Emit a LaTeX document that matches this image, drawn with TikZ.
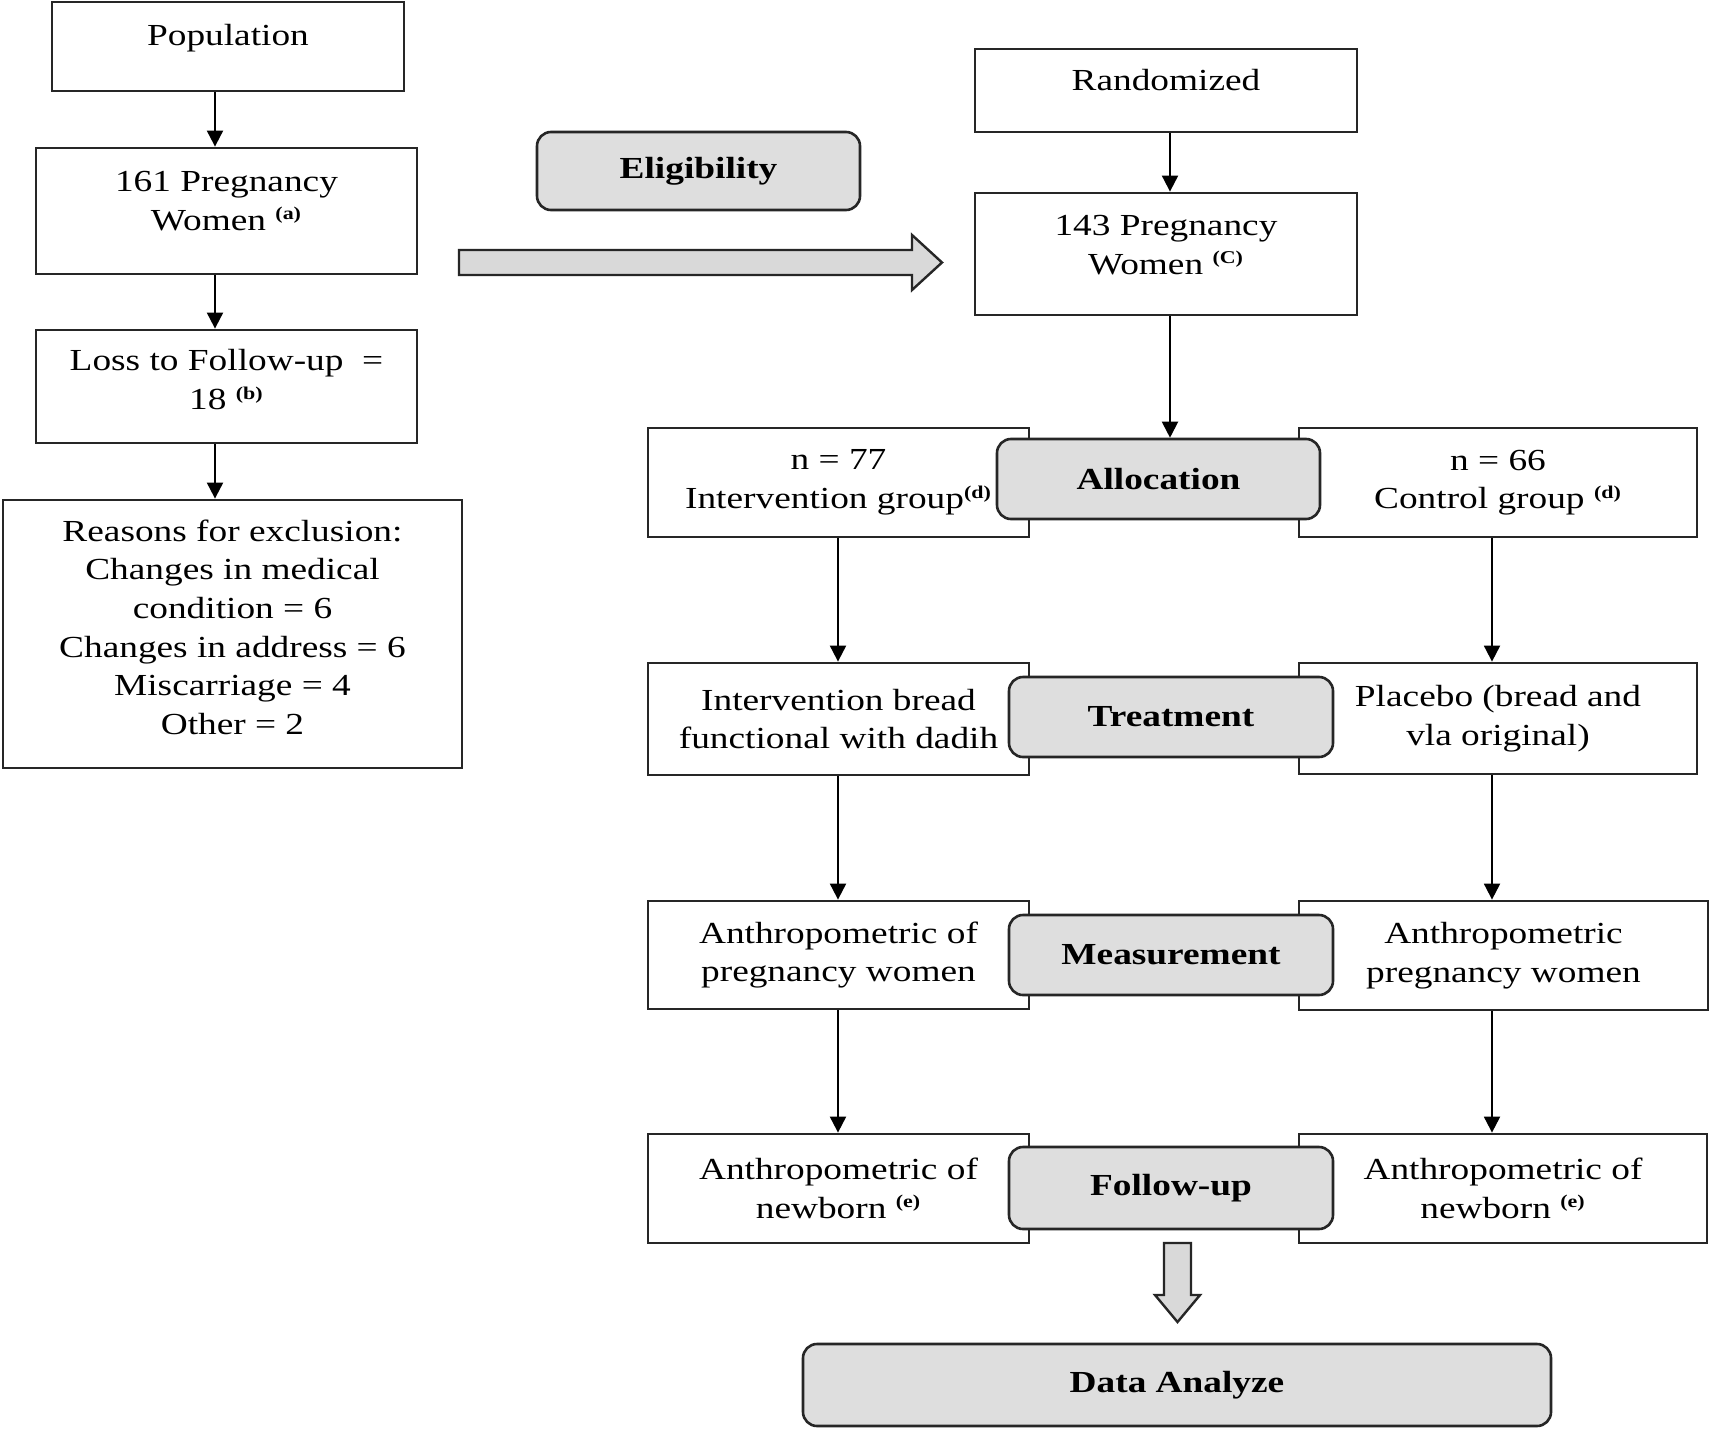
\documentclass[tikz,border=0pt]{standalone}
\usepackage{fontspec}
\setmainfont{Liberation Serif}[FakeStretch=1.22]
\usetikzlibrary{arrows.meta}
\newcommand\myup[1]{\textsuperscript{\fontsize{9}{9}\selectfont\bfseries(#1)}}
\newcommand\liftup[2]{\raisebox{#1}[\height][\depth]{\begin{tabular}{@{}c@{}}#2\end{tabular}}}
\begin{document}
\begin{tikzpicture}[x=0.5pt,y=-0.5pt,
  font=\fontsize{15.3}{19.3}\selectfont,
  wbox/.style={draw=black!85, line width=1.4pt, fill=white, align=center, inner sep=0pt},
  gbox/.style={draw=black!85, line width=1.3pt, fill=black!13, rounded corners=7pt, align=center, inner sep=0pt, font=\fontsize{15.3}{19.3}\selectfont\bfseries},
  arr/.style={draw=black, line width=1pt, -{Triangle[width=8pt,length=8pt]}},
  blk/.style={draw=black!85, line width=1.2pt, fill=black!15, line join=miter}
]
\useasboundingbox (0,0) rectangle (1713,1429);
\fill[white] (0,0) rectangle (1713,1429);

% left column
\node[wbox, minimum width=176pt, minimum height=44.5pt] (pop) at (228,46.5) {\liftup{4.5pt}{Population}};
\node[wbox, minimum width=190.5pt, minimum height=63pt] (p161) at (226.5,211) {\liftup{4pt}{161 Pregnancy\\Women~\myup{a}}};
\node[wbox, minimum width=190.5pt, minimum height=56.5pt] (loss) at (226.5,386.5) {\liftup{2pt}{Loss to Follow-up~~=\\18~\myup{b}}};
\node[wbox, minimum width=229.5pt, minimum height=134pt] (reas) at (232.5,634) {\liftup{2pt}{Reasons for exclusion:\\Changes in medical\\condition = 6\\Changes in address = 6\\Miscarriage = 4\\Other = 2}};

% eligibility
\node[gbox, minimum width=161.5pt, minimum height=39pt] (elig) at (698.5,171) {Eligibility};
\draw[blk] (459,250) -- (912,250) -- (912,235) -- (942,262.5) -- (912,290) -- (912,275) -- (459,275) -- cycle;

% right column top
\node[wbox, minimum width=191pt, minimum height=41.5pt] (rand) at (1166,90.5) {\liftup{4pt}{Randomized}};
\node[wbox, minimum width=191pt, minimum height=61pt] (p143) at (1166,254) {\liftup{3.5pt}{143 Pregnancy\\Women~\myup{C}}};

% rows of white boxes
\node[wbox, minimum width=190.5pt, minimum height=54.5pt] (int) at (838.5,482.5) {n = 77\\Intervention group\myup{d}};
\node[wbox, minimum width=199pt, minimum height=54.5pt] (ctl) at (1498,482.5) {n = 66\\Control group~\myup{d}};
\node[wbox, minimum width=190.5pt, minimum height=56pt] (intb) at (838.5,719) {Intervention bread\\functional with dadih};
\node[wbox, minimum width=199pt, minimum height=55.5pt] (plac) at (1498,718.5) {Placebo (bread and\\vla original)};
\node[wbox, minimum width=190.5pt, minimum height=54pt] (meal) at (838.5,955) {Anthropometric of\\pregnancy women};
\node[wbox, minimum width=204.5pt, minimum height=54.5pt] (mear) at (1503.5,955.5) {Anthropometric\\pregnancy women};
\node[wbox, minimum width=190.5pt, minimum height=54.5pt] (foll) at (838.5,1188.5) {Anthropometric of\\newborn~\myup{e}};
\node[wbox, minimum width=204pt, minimum height=54.5pt] (folr) at (1503,1188.5) {Anthropometric of\\newborn~\myup{e}};

% gray stage boxes
\node[gbox, minimum width=161.5pt, minimum height=40pt] (alloc) at (1158.5,479) {Allocation};
\node[gbox, minimum width=162pt, minimum height=40pt] (treat) at (1171,717) {Treatment};
\node[gbox, minimum width=162pt, minimum height=40pt] (meas) at (1171,955) {Measurement};
\node[gbox, minimum width=162pt, minimum height=41pt] (follow) at (1171,1188) {Follow-up};
\node[gbox, minimum width=374pt, minimum height=41pt] (data) at (1177,1385) {Data Analyze};

\draw[blk] (1164,1243) -- (1191,1243) -- (1191,1295) -- (1200,1295) -- (1177.5,1322) -- (1155,1295) -- (1164,1295) -- cycle;

% connectors
\coordinate (lx) at (215,0);
\coordinate (mx) at (1170,0);
\coordinate (ix) at (838,0);
\coordinate (rx) at (1492,0);
\draw[arr] (pop.south -| lx) -- (p161.north -| lx);
\draw[arr] (p161.south -| lx) -- (loss.north -| lx);
\draw[arr] (loss.south -| lx) -- (reas.north -| lx);
\draw[arr] (rand.south -| mx) -- (p143.north -| mx);
\draw[arr] (p143.south -| mx) -- (alloc.north -| mx);
\draw[arr] (int.south -| ix) -- (intb.north -| ix);
\draw[arr] (intb.south -| ix) -- (meal.north -| ix);
\draw[arr] (meal.south -| ix) -- (foll.north -| ix);
\draw[arr] (ctl.south -| rx) -- (plac.north -| rx);
\draw[arr] (plac.south -| rx) -- (mear.north -| rx);
\draw[arr] (mear.south -| rx) -- (folr.north -| rx);
\end{tikzpicture}
\end{document}
